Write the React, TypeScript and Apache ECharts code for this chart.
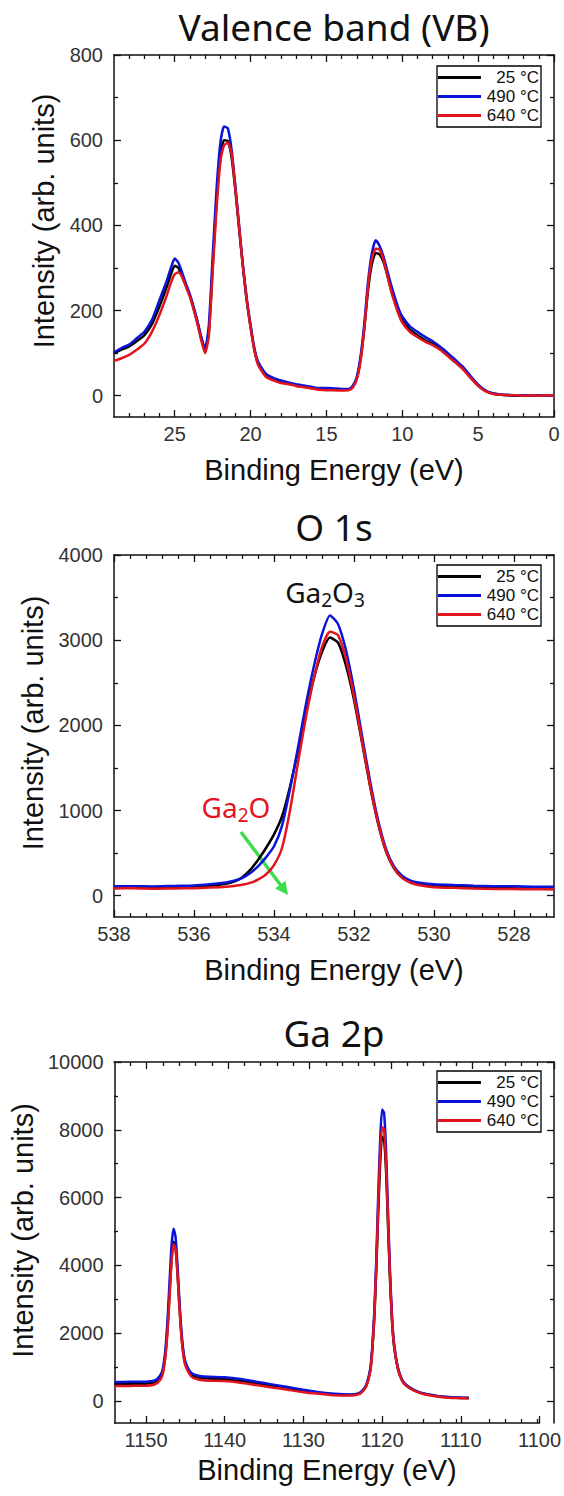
import React, { useEffect, useRef } from "react";
import * as echarts from "echarts";

// ---------- data ----------
const seriesNames = ["25 °C", "490 °C", "640 °C"];
const seriesColors = ["#000000", "#0a14d8", "#e2141e"];

const panelTitles = ["Valence band (VB)", "O 1s", "Ga 2p"];
const xAxisName = "Binding Energy (eV)";
const yAxisName = "Intensity (arb. units)";

// Valence band
const vbEnergy = [29, 28.5, 28, 27.5, 27, 26.5, 26, 25.5, 25.25, 25, 24.75, 24.5, 24.25, 24, 23.75, 23.5, 23.25, 23, 22.75, 22.5, 22.25, 22, 21.75, 21.5, 21.25, 21, 20.75, 20.5, 20.25, 20, 19.75, 19.5, 19, 18.5, 18, 17.5, 17, 16.5, 16, 15.5, 15, 14.5, 14, 13.5, 13.25, 13, 12.75, 12.5, 12.25, 12, 11.75, 11.5, 11.25, 11, 10.75, 10.5, 10.25, 10, 9.5, 9, 8.5, 8, 7.5, 7, 6.5, 6, 5.5, 5, 4.5, 4, 3.5, 3, 2.5, 2, 1.5, 1, 0.5, 0];
const vb25 = [100, 108, 116, 128, 142, 168, 210, 258, 285, 305, 300, 280, 258, 235, 205, 172, 135, 108, 150, 300, 450, 560, 600, 598, 560, 482, 390, 302, 222, 162, 108, 75, 48, 38, 32, 29, 25, 22, 19, 16, 15, 14, 14, 15, 22, 40, 85, 160, 250, 310, 335, 332, 315, 285, 250, 222, 198, 178, 155, 142, 130, 122, 110, 95, 80, 64, 43, 24, 11, 5, 2, 1, 0, 1, 0, 0, 0, 0];
const vb490 = [102, 112, 120, 135, 150, 178, 225, 272, 300, 322, 312, 288, 262, 238, 208, 175, 138, 110, 165, 325, 480, 590, 632, 628, 578, 492, 398, 306, 228, 166, 112, 80, 52, 42, 36, 31, 27, 24, 21, 18, 18, 17, 16, 16, 24, 44, 92, 170, 270, 335, 365, 352, 328, 295, 262, 232, 205, 186, 163, 150, 138, 128, 115, 100, 84, 68, 46, 26, 12, 5, 3, 2, 1, 1, 0, 1, 0, 0];
const vb640 = [82, 88, 96, 108, 122, 150, 190, 238, 265, 285, 290, 278, 255, 232, 202, 168, 130, 100, 140, 290, 435, 545, 588, 594, 568, 486, 394, 302, 225, 160, 108, 72, 45, 36, 30, 27, 23, 20, 17, 14, 13, 13, 12, 13, 20, 38, 82, 158, 258, 322, 345, 343, 320, 285, 248, 218, 192, 172, 150, 138, 127, 119, 108, 93, 78, 62, 42, 23, 10, 4, 2, 1, 1, 0, 1, 0, 1, 0];

// O 1s
const o1sEnergy = [538, 537.5, 537, 536.5, 536, 535.6, 535.2, 535, 534.8, 534.6, 534.4, 534.2, 534, 533.8, 533.6, 533.4, 533.2, 533, 532.8, 532.6, 532.4, 532.2, 532, 531.8, 531.6, 531.4, 531.2, 531, 530.8, 530.6, 530.4, 530, 529.5, 529, 528.5, 528, 527.5, 527];
const o1s25 = [105, 98, 102, 100, 108, 118, 140, 165, 215, 300, 420, 560, 720, 930, 1280, 1700, 2150, 2560, 2860, 3030, 2970, 2700, 2300, 1800, 1290, 850, 520, 320, 215, 165, 138, 118, 108, 102, 95, 88, 84, 80];
const o1s490 = [110, 112, 108, 115, 120, 135, 155, 175, 205, 265, 345, 450, 580, 820, 1250, 1740, 2250, 2700, 3070, 3290, 3190, 2880, 2420, 1880, 1350, 890, 550, 345, 235, 180, 155, 135, 125, 118, 112, 110, 106, 105];
const o1s640 = [85, 88, 82, 86, 88, 95, 105, 115, 128, 150, 190, 250, 360, 560, 1000, 1560, 2100, 2560, 2920, 3100, 3060, 2780, 2340, 1820, 1300, 860, 525, 325, 210, 155, 125, 100, 92, 85, 80, 78, 76, 75];

// Ga 2p
const ga2pEnergy = [1154, 1152, 1150, 1149, 1148.5, 1148, 1147.75, 1147.5, 1147.25, 1147, 1146.75, 1146.5, 1146.25, 1146, 1145.75, 1145.5, 1145.25, 1145, 1144.5, 1144, 1143, 1142, 1140, 1138, 1136, 1134, 1132, 1130, 1128, 1126, 1124, 1123, 1122.5, 1122, 1121.5, 1121.25, 1121, 1120.75, 1120.5, 1120.25, 1120, 1119.75, 1119.5, 1119.25, 1119, 1118.75, 1118.5, 1118, 1117.5, 1117, 1116, 1115, 1114, 1113, 1112, 1111, 1110, 1109];
const ga2p25 = [500, 505, 510, 540, 600, 760, 1000, 1450, 2200, 3200, 4200, 4700, 4550, 3800, 2800, 1950, 1400, 1100, 850, 740, 680, 660, 640, 590, 520, 450, 380, 300, 240, 190, 175, 210, 290, 450, 900, 1500, 2400, 3800, 5500, 7000, 7800, 7700, 6800, 5200, 3600, 2400, 1650, 950, 620, 470, 320, 230, 180, 140, 115, 100, 90, 85];
const ga2p490 = [560, 565, 570, 600, 670, 840, 1100, 1600, 2450, 3550, 4600, 5080, 4850, 4000, 2950, 2050, 1480, 1160, 900, 790, 730, 715, 700, 650, 570, 490, 410, 330, 260, 210, 190, 225, 310, 480, 960, 1600, 2600, 4100, 6000, 7700, 8600, 8500, 7400, 5600, 3850, 2550, 1750, 1000, 650, 490, 335, 240, 190, 150, 125, 110, 100, 95];
const ga2p640 = [440, 445, 450, 480, 545, 700, 930, 1380, 2100, 3100, 4100, 4620, 4480, 3750, 2750, 1900, 1350, 1050, 800, 680, 620, 600, 590, 540, 470, 400, 330, 260, 210, 165, 160, 195, 275, 440, 880, 1480, 2450, 3900, 5700, 7300, 8080, 8000, 7000, 5350, 3700, 2450, 1680, 960, 620, 460, 310, 220, 170, 130, 105, 90, 80, 75];

// tick labels
const vbXTicks = [0, 5, 10, 15, 20, 25];
const vbYTicks = [0, 200, 400, 600, 800];
const o1sXTicks = [528, 530, 532, 534, 536, 538];
const o1sYTicks = [0, 1000, 2000, 3000, 4000];
const ga2pXTicks = [1100, 1110, 1120, 1130, 1140, 1150];
const ga2pYTicks = [0, 2000, 4000, 6000, 8000, 10000];

// ---------- layout / styles ----------
const FONT = "'Liberation Sans', Arial, Helvetica, sans-serif";
const TITLE_FONT = "'Noto Sans', 'Liberation Sans', sans-serif";
const GRID_LEFT = 114;
const GRID_WIDTH = 440;
const CENTER_X = GRID_LEFT + GRID_WIDTH / 2;

const panels = [
  {
    energy: vbEnergy, values: [vb25, vb490, vb640],
    xMin: 0, xMax: 29, yMin: -50, yMax: 800,
    xTicks: vbXTicks, yTicks: vbYTicks, xMinorStep: 1, yMinorStep: 100,
    top: 55, height: 362, titleY: 26, legendTop: 66, xNameGap: 38, yNameGap: 48, yNameShift: 30,
  },
  {
    energy: o1sEnergy, values: [o1s25, o1s490, o1s640],
    xMin: 527, xMax: 538, yMin: -250, yMax: 4000,
    xTicks: o1sXTicks, yTicks: o1sYTicks, xMinorStep: 0.4, yMinorStep: 500,
    top: 555, height: 362, titleY: 526, legendTop: 565, xNameGap: 38, yNameGap: 66, yNameShift: 26,
  },
  {
    energy: ga2pEnergy, values: [ga2p25, ga2p490, ga2p640],
    xMin: 1100, xMax: 1154, yMin: -650, yMax: 10000,
    xTicks: ga2pXTicks, yTicks: ga2pYTicks, xMinorStep: 2, yMinorStep: 1000,
    top: 1062, height: 361, titleY: 1032, legendTop: 1071, xNameGap: 32, yNameGap: 77, yNameShift: 24,
  },
];

function minorTicks(min: number, max: number, step: number, majors: number[]) {
  const out: number[] = [];
  const n0 = Math.ceil(min / step - 1e-9);
  const n1 = Math.floor(max / step + 1e-9);
  for (let n = n0; n <= n1; n++) {
    const v = Math.round(n * step * 1000) / 1000;
    if (v <= min || v >= max) continue;
    if (majors.some((m) => Math.abs(m - v) < 1e-6)) continue;
    out.push(v);
  }
  return out;
}

const AXIS_COLOR = "#111";
const plain = (v: number) => String(v);

function buildOption() {
  const grid: any[] = [];
  const xAxis: any[] = [];
  const yAxis: any[] = [];
  const series: any[] = [];
  const legend: any[] = [];
  const graphic: any[] = [];

  panels.forEach((p, i) => {
    const xMinor = minorTicks(p.xMin, p.xMax, p.xMinorStep, p.xTicks);
    const yMinor = minorTicks(p.yMin, p.yMax, p.yMinorStep, p.yTicks);
    for (let g = 0; g < 4; g++) {
      grid.push({ left: GRID_LEFT, width: GRID_WIDTH, top: p.top, height: p.height });
      const gi = i * 4 + g;
      const isMajor = g < 2;
      const isMain = g === 0;
      const xPos = g % 2 === 0 ? "bottom" : "top";
      const yPos = g % 2 === 0 ? "left" : "right";
      xAxis.push({
        gridIndex: gi,
        type: "value",
        position: xPos,
        inverse: true,
        min: p.xMin,
        max: p.xMax,
        axisLine: { show: isMajor, onZero: false, lineStyle: { color: AXIS_COLOR, width: 1.5 } },
        axisTick: {
          show: true, inside: true, length: isMajor ? 7 : 4,
          customValues: isMajor ? p.xTicks : xMinor,
          lineStyle: { color: AXIS_COLOR, width: 1.3 },
        },
        axisLabel: {
          show: isMain, customValues: p.xTicks, margin: 7, formatter: plain,
          fontSize: 20, fontFamily: FONT, color: "#333",
        },
        splitLine: { show: false },
        name: isMain ? xAxisName : "",
        nameLocation: "middle",
        nameGap: p.xNameGap,
        nameTextStyle: { fontSize: 29, fontFamily: FONT, color: "#111" },
      });
      yAxis.push({
        gridIndex: gi,
        type: "value",
        position: yPos,
        min: p.yMin,
        max: p.yMax,
        axisLine: { show: isMajor, onZero: false, lineStyle: { color: AXIS_COLOR, width: 1.5 } },
        axisTick: {
          show: true, inside: true, length: isMajor ? 7 : 4,
          customValues: isMajor ? p.yTicks : yMinor,
          lineStyle: { color: AXIS_COLOR, width: 1.3 },
        },
        axisLabel: {
          show: isMain, customValues: p.yTicks, margin: 11, formatter: plain,
          fontSize: 20, fontFamily: FONT, color: "#333",
        },
        splitLine: { show: false },
        name: isMain ? yAxisName : "",
        nameLocation: "middle",
        nameGap: p.yNameGap,
        nameTextStyle: {
          fontSize: 29, fontFamily: FONT, color: "#111",
          padding: [0, 0, 0, p.yNameShift],
        },
      });
    }
    p.values.forEach((vals, s) => {
      series.push({
        type: "line",
        name: seriesNames[s],
        xAxisIndex: i * 4,
        yAxisIndex: i * 4,
        data: p.energy.map((e, k) => [e, vals[k]]),
        symbol: "none",
        smooth: 0.2,
        lineStyle: { color: seriesColors[s], width: 2.5 },
        itemStyle: { color: seriesColors[s] },
        z: 2 + s,
      });
    });
    legend.push({
      left: 437,
      top: p.legendTop,
      orient: "vertical",
      selectedMode: false,
      data: seriesNames,
      icon: "rect",
      padding: [3, 2, 3, 1],
      itemGap: 2,
      itemWidth: 43,
      itemHeight: 3,
      borderColor: "#000",
      borderWidth: 1.3,
      backgroundColor: "#fff",
      formatter: "{t|{name}}",
      textStyle: {
        fontFamily: FONT, fontSize: 17, color: "#111",
        rich: { t: { width: 53, align: "right", fontSize: 17, fontFamily: FONT, color: "#111", lineHeight: 20 } },
      },
    });
    graphic.push({
      type: "text",
      x: CENTER_X,
      y: p.titleY,
      style: {
        text: panelTitles[i], fontSize: 37, fontFamily: TITLE_FONT, fill: "#111",
        align: "center", verticalAlign: "middle",
      },
    });
  });

  // annotations on O 1s
  graphic.push({
    type: "text",
    x: 325,
    y: 592,
    style: {
      text: "{n|Ga}{s|2}{n|O}{s|3}",
      align: "center",
      verticalAlign: "middle",
      rich: {
        n: { fontSize: 28, fontFamily: TITLE_FONT, fill: "#111", color: "#111", lineHeight: 34 },
        s: { fontSize: 19, fontFamily: TITLE_FONT, fill: "#111", color: "#111", lineHeight: 18, padding: [16, 0, 0, 0] },
      },
    },
  });
  graphic.push({
    type: "text",
    x: 236,
    y: 807,
    style: {
      text: "{n|Ga}{s|2}{n|O}",
      align: "center",
      verticalAlign: "middle",
      rich: {
        n: { fontSize: 28, fontFamily: TITLE_FONT, fill: "#e2141e", color: "#e2141e", lineHeight: 34 },
        s: { fontSize: 19, fontFamily: TITLE_FONT, fill: "#e2141e", color: "#e2141e", lineHeight: 18, padding: [16, 0, 0, 0] },
      },
    },
  });
  graphic.push({
    type: "line",
    shape: { x1: 241, y1: 832, x2: 280.5, y2: 885 },
    style: { stroke: "#3fdc4f", lineWidth: 3.5 },
  });
  graphic.push({
    type: "polygon",
    shape: { points: [[288, 895], [275, 888.5], [285.4, 880.7]] },
    style: { fill: "#3fdc4f" },
  });

  return {
    animation: false,
    backgroundColor: "#fff",
    grid,
    xAxis,
    yAxis,
    legend,
    series,
    graphic,
  };
}

export default function App() {
  const ref = useRef<HTMLDivElement>(null);
  useEffect(() => {
    if (!ref.current) return;
    const chart = echarts.init(ref.current, null, { renderer: "svg" });
    chart.setOption(buildOption() as any);
    return () => chart.dispose();
  }, []);
  return (
    <div
      ref={ref}
      style={{ position: "absolute", left: 0, top: 0, width: 564, height: 1496, background: "#fff" }}
    />
  );
}
